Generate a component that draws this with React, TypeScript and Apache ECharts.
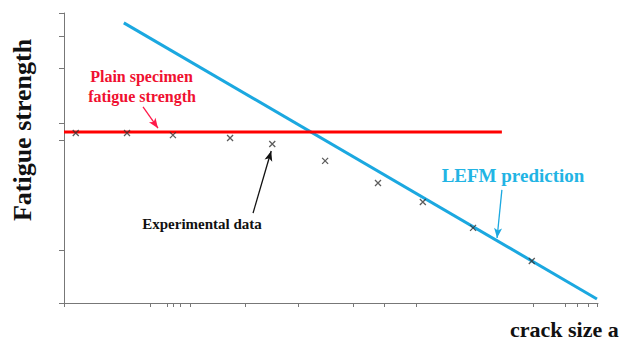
import React, { useEffect, useRef } from "react";
import * as echarts from "echarts";

// Schematic units: x 0..10 (crack size), y 0..10 (fatigue strength)
const experimentalData: [number, number][] = [
  [0.22, 5.86],
  [1.18, 5.86],
  [2.04, 5.79],
  [3.11, 5.69],
  [3.9, 5.48],
  [4.89, 4.9],
  [5.88, 4.14],
  [6.72, 3.48],
  [7.66, 2.59],
  [8.76, 1.45],
];
const plainSpecimen: [number, number][] = [
  [0, 5.9],
  [8.2, 5.9],
];
const lefmPrediction: [number, number][] = [
  [1.12, 9.66],
  [9.98, 0.14],
];
const yTicks = [0, 1.83, 5.62, 6.21, 8.1, 9.21, 10];
const xTicks = [0, 1.61, 1.93, 2.04, 2.17, 2.36, 3.39, 4.38, 5.41, 5.99, 6.59, 8.78, 9.38, 9.61, 9.81, 9.98];
const redArrow: [number, number][] = [
  [1.48, 6.76],
  [1.76, 6.03],
];
const blackArrow: [number, number][] = [
  [3.54, 3.1],
  [3.88, 5.24],
];
const cyanArrow: [number, number][] = [
  [8.2, 3.9],
  [8.11, 2.24],
];

const SERIF = '"Liberation Serif", "Times New Roman", serif';
const RED = "#ff0000";
const RED_TEXT = "#f01030";
const BLUE = "#1ba8e0";
const BLUE_TEXT = "#22b4e4";

export default function App() {
  const ref = useRef<HTMLDivElement>(null);
  useEffect(() => {
    if (!ref.current) return;
    const chart = echarts.init(ref.current, undefined, { renderer: "svg" });
    const arrow = (pts: [number, number][], color: string) => ({
      silent: true,
      symbol: ["none", "arrow"],
      symbolSize: [6, 10],
      label: { show: false },
      lineStyle: { type: "solid", color, width: 1.3 },
      data: [[{ coord: pts[0] }, { coord: pts[1] }]],
    });
    chart.setOption({
      animation: false,
      backgroundColor: "#ffffff",
      grid: { left: 64, top: 13, right: 25, bottom: 38 },
      xAxis: {
        type: "value",
        min: 0,
        max: 10,
        axisLine: { show: true, lineStyle: { color: "#777", width: 1 } },
        axisTick: { show: true, customValues: xTicks, length: 4, lineStyle: { color: "#777" } },
        axisLabel: { show: false },
        splitLine: { show: false },
      },
      yAxis: {
        type: "value",
        min: 0,
        max: 10,
        axisLine: { show: true, lineStyle: { color: "#777", width: 1 } },
        axisTick: { show: true, customValues: yTicks, length: 5, lineStyle: { color: "#777" } },
        axisLabel: { show: false },
        splitLine: { show: false },
      },
      series: [
        {
          name: "Plain specimen fatigue strength",
          type: "line",
          data: plainSpecimen,
          showSymbol: false,
          lineStyle: { color: RED, width: 3 },
          markLine: arrow(redArrow, "#ff1a4a"),
          z: 3,
        },
        {
          name: "LEFM prediction",
          type: "line",
          data: lefmPrediction,
          showSymbol: false,
          lineStyle: { color: BLUE, width: 3 },
          markLine: arrow(cyanArrow, BLUE),
          z: 2,
        },
        {
          name: "Experimental data",
          type: "scatter",
          data: experimentalData,
          symbol: "path://M0,0L10,10M10,0L0,10",
          symbolSize: 6,
          itemStyle: { color: "none", borderColor: "#333", borderWidth: 1.3 },
          markLine: arrow(blackArrow, "#111"),
          z: 4,
        },
      ],
      graphic: [
        {
          type: "text",
          x: 22,
          y: 130,
          rotation: Math.PI / 2,
          style: {
            text: "Fatigue strength",
            font: `bold 26px ${SERIF}`,
            fill: "#111",
            textAlign: "center",
            textVerticalAlign: "middle",
          },
        },
        {
          type: "text",
          x: 510,
          y: 329,
          style: {
            text: "crack size a",
            font: `bold 22px ${SERIF}`,
            fill: "#111",
            textAlign: "left",
            textVerticalAlign: "middle",
          },
        },
        {
          type: "text",
          x: 141.5,
          y: 76.5,
          style: {
            text: "Plain specimen",
            font: `bold 16px ${SERIF}`,
            fill: RED_TEXT,
            textAlign: "center",
            textVerticalAlign: "middle",
          },
        },
        {
          type: "text",
          x: 142,
          y: 96.5,
          style: {
            text: "fatigue strength",
            font: `bold 16px ${SERIF}`,
            fill: RED_TEXT,
            textAlign: "center",
            textVerticalAlign: "middle",
          },
        },
        {
          type: "text",
          x: 202,
          y: 224,
          style: {
            text: "Experimental data",
            font: `bold 15px ${SERIF}`,
            fill: "#111",
            textAlign: "center",
            textVerticalAlign: "middle",
          },
        },
        {
          type: "text",
          x: 513,
          y: 175.5,
          style: {
            text: "LEFM prediction",
            font: `bold 19px ${SERIF}`,
            fill: BLUE_TEXT,
            textAlign: "center",
            textVerticalAlign: "middle",
          },
        },
      ],
    });
    return () => chart.dispose();
  }, []);
  return <div ref={ref} style={{ width: 623, height: 341, position: "absolute", left: 0, top: 0 }} />;
}
